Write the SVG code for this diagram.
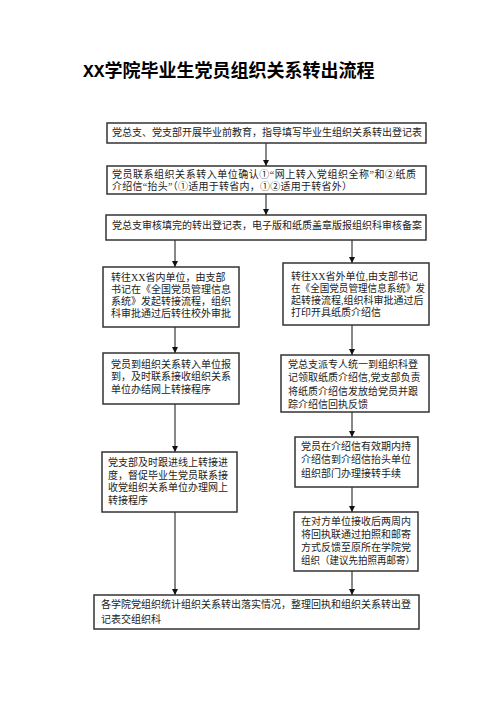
<svg xmlns="http://www.w3.org/2000/svg" width="496" height="702" viewBox="0 0 496 702">
<style>
.box{fill:#fff;stroke:#333;stroke-width:1.5}
.t{font-family:"Liberation Serif","Noto Sans CJK SC",serif;font-size:10px;fill:#222}
.title{font-family:"Noto Sans CJK SC",sans-serif;font-size:18px;font-weight:bold;fill:#000}
.mono{font-family:"Liberation Mono",monospace;font-weight:bold}
.c{stroke:#111;stroke-width:1;fill:none;marker-end:url(#ah)}
</style>
<defs>
<marker id="ah" markerUnits="userSpaceOnUse" markerWidth="7" markerHeight="7" refX="6" refY="3.5" orient="auto">
<path d="M0,0.5 L6,3.5 L0,6.5 Z" fill="#111"/>
</marker>
</defs>
<rect width="496" height="702" fill="#fff"/>
<text class="title" x="83" y="77"><tspan class="mono">XX</tspan>学院毕业生党员组织关系转出流程</text>

<g id="connectors">
<line class="c" x1="266" y1="143" x2="266" y2="166"/>
<line class="c" x1="266" y1="194" x2="266" y2="215"/>
<line class="c" x1="175" y1="240" x2="175" y2="267"/>
<line class="c" x1="352" y1="240" x2="352" y2="263"/>
<line class="c" x1="175" y1="327" x2="175" y2="353"/>
<line class="c" x1="352" y1="325" x2="352" y2="355"/>
<line class="c" x1="175" y1="404" x2="175" y2="452"/>
<line class="c" x1="352" y1="412" x2="352" y2="437"/>
<line class="c" x1="352" y1="487" x2="352" y2="512"/>
<line class="c" x1="175" y1="512" x2="175" y2="595"/>
<line class="c" x1="352" y1="571" x2="352" y2="595"/>
</g>

<g id="n1">
<rect class="box" x="107" y="123" width="319" height="20"/>
<text class="t" x="112" y="136">党总支、党支部开展毕业前教育，指导填写毕业生组织关系转出登记表</text>
</g>
<g id="n2">
<rect class="box" x="107" y="166" width="319" height="28"/>
<text class="t" x="112" y="178" textLength="304" lengthAdjust="spacing">党员联系组织关系转入单位确认①“网上转入党组织全称”和②纸质</text>
<text class="t" x="112" y="189.5" textLength="240" lengthAdjust="spacing">介绍信“抬头”（①适用于转省内，①②适用于转省外）</text>
</g>
<g id="n3">
<rect class="box" x="106" y="215" width="320" height="25"/>
<text class="t" x="112" y="229">党总支审核填完的转出登记表，电子版和纸质盖章版报组织科审核备案</text>
</g>
<g id="n4">
<rect class="box" x="103" y="267" width="136" height="60"/>
<text class="t" x="111" y="281.3">转往XX省内单位，由支部</text>
<text class="t" x="111" y="293">书记在《全国党员管理信息</text>
<text class="t" x="111" y="304.8">系统》发起转接流程，组织</text>
<text class="t" x="111" y="316.5">科审批通过后转往校外审批</text>
</g>
<g id="n5">
<rect class="box" x="283" y="263" width="146" height="62"/>
<text class="t" x="291" y="279.5">转往XX省外单位,由支部书记</text>
<text class="t" x="291" y="292" textLength="134" lengthAdjust="spacingAndGlyphs">在《全国党员管理信息系统》发</text>
<text class="t" x="291" y="304">起转接流程,组织科审批通过后</text>
<text class="t" x="291" y="316">打印开具纸质介绍信</text>
</g>
<g id="n6">
<rect class="box" x="103" y="353" width="136" height="51"/>
<text class="t" x="111" y="367.8">党员到组织关系转入单位报</text>
<text class="t" x="111" y="380.3">到，及时联系接收组织关系</text>
<text class="t" x="111" y="392.8">单位办结网上转接程序</text>
</g>
<g id="n7">
<rect class="box" x="281" y="355" width="148" height="57"/>
<text class="t" x="288" y="367.8">党总支派专人统一到组织科登</text>
<text class="t" x="288" y="381.3">记领取纸质介绍信,党支部负责</text>
<text class="t" x="288" y="394.8">将纸质介绍信发放给党员并跟</text>
<text class="t" x="288" y="408.3">踪介绍信回执反馈</text>
</g>
<g id="n8">
<rect class="box" x="102" y="452" width="135" height="60"/>
<text class="t" x="108" y="466.3">党支部及时跟进线上转接进</text>
<text class="t" x="108" y="478.8">度，督促毕业生党员联系接</text>
<text class="t" x="108" y="491.3">收党组织关系单位办理网上</text>
<text class="t" x="108" y="503.8">转接程序</text>
</g>
<g id="n9">
<rect class="box" x="295" y="437" width="123" height="50"/>
<text class="t" x="301" y="450">党员在介绍信有效期内持</text>
<text class="t" x="301" y="463.3">介绍信到介绍信抬头单位</text>
<text class="t" x="301" y="476.6">组织部门办理接转手续</text>
</g>
<g id="n10">
<rect class="box" x="294" y="512" width="124" height="59"/>
<text class="t" x="301" y="524.5">在对方单位接收后两周内</text>
<text class="t" x="301" y="537.8">将回执联通过拍照和邮寄</text>
<text class="t" x="301" y="551.1">方式反馈至原所在学院党</text>
<text class="t" x="301" y="564.4" textLength="114" lengthAdjust="spacingAndGlyphs">组织（建议先拍照再邮寄）</text>
</g>
<g id="n11">
<rect class="box" x="94" y="595" width="325" height="34"/>
<text class="t" x="101" y="607.8">各学院党组织统计组织关系转出落实情况，整理回执和组织关系转出登</text>
<text class="t" x="101" y="623.3">记表交组织科</text>
</g>
</svg>
